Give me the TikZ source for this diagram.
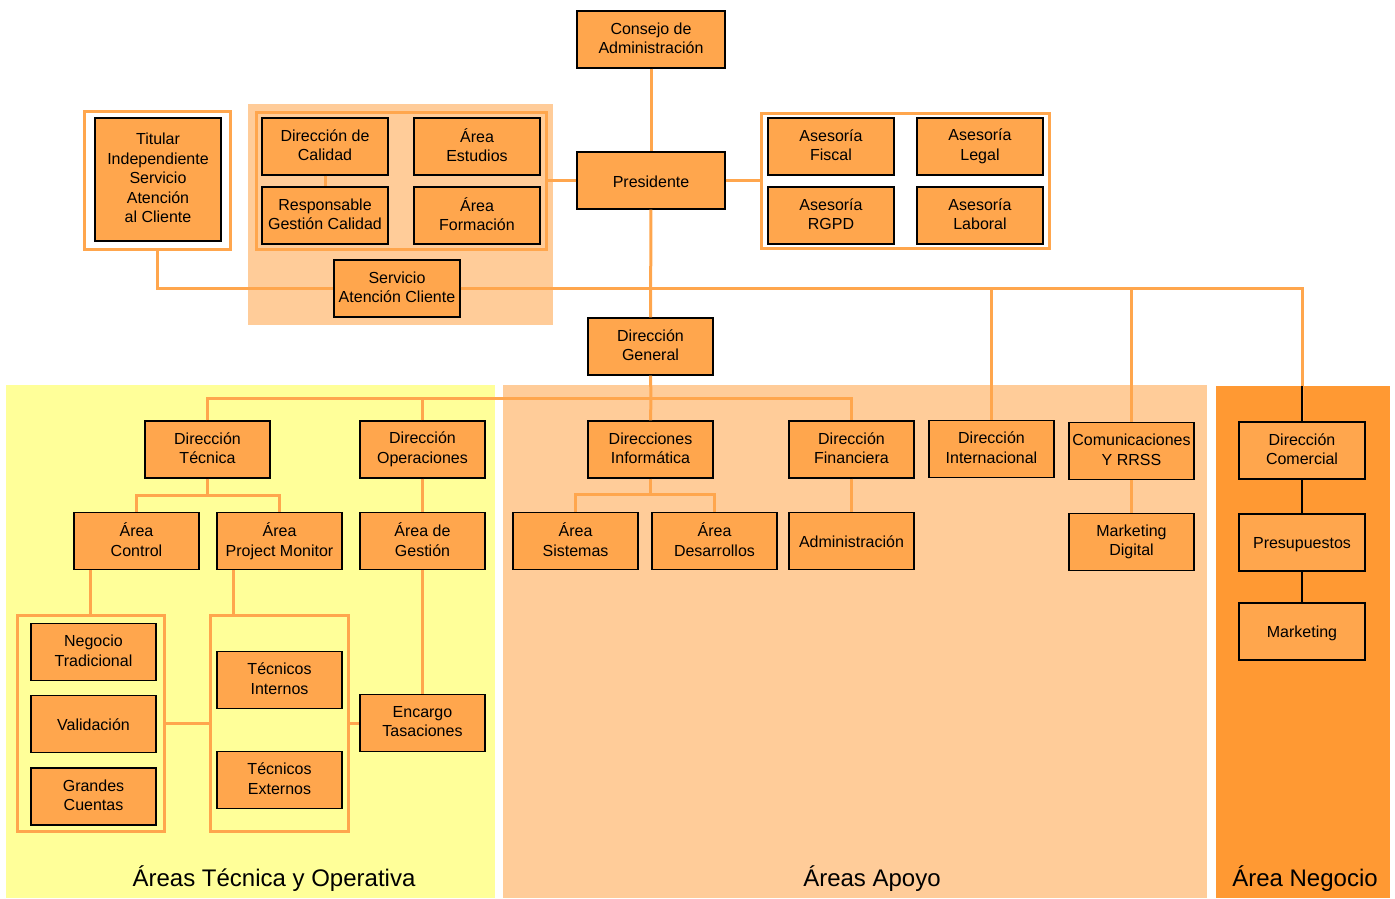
\documentclass[tikz,border=0pt]{standalone}
\usepackage{fontspec}
\setmainfont{Liberation Sans}
\definecolor{boxorange}{HTML}{FFA64D}
\definecolor{lineorange}{HTML}{FFA64D}
\definecolor{apoyobg}{HTML}{FFCC99}
\definecolor{tecnicabg}{HTML}{FFFF99}
\definecolor{negociobg}{HTML}{FF9933}

\begin{document}
\begin{tikzpicture}[
    x=1pt, y=-1pt,
    box/.style={rectangle, draw=black, line width=1.3pt, fill=boxorange, minimum width=125pt, minimum height=57pt, inner sep=0pt, align=center, font=\fontsize{16}{19.5}\selectfont, execute at begin node={\rule{0pt}{16pt}}, execute at end node={\rule[-3pt]{0pt}{3pt}}},
    frame/.style={rectangle, draw=lineorange, line width=3pt, inner sep=0pt},
    link/.style={draw=lineorange, line width=3pt},
    blink/.style={draw=black, line width=2pt},
    zone/.style={font=\fontsize{24}{28}\selectfont}
]
\useasboundingbox (0,0) rectangle (1395,898);

% Backgrounds
\fill[tecnicabg] (6,385) rectangle (495,898);
\fill[apoyobg] (503,385) rectangle (1207,898);
\fill[negociobg] (1216,386) rectangle (1390,898);
\fill[apoyobg] (248,104) rectangle (553,325);

% Frames
\node[frame, fill=white, minimum width=146pt, minimum height=138pt] (ftitular) at (157, 180) {};
\node[frame, minimum width=290pt, minimum height=137pt] (fcal) at (401, 180.5) {};
\node[frame, fill=white, minimum width=288pt, minimum height=135pt] (fases) at (905, 180.5) {};
\node[frame, minimum width=147pt, minimum height=216pt] (fcontrol) at (90.5, 723) {};
\node[frame, minimum width=138pt, minimum height=216pt] (ftec) at (279, 723) {};

% Top
\node[box, minimum width=148pt] (consejo) at (651, 39.5) {Consejo de\\Administración};
\node[box, minimum width=148pt] (presidente) at (651, 180.5) {Presidente};
\node[box, minimum width=126pt, minimum height=123pt] (titular) at (158, 179.5) {Titular\\Independiente\\Servicio\\Atención\\al Cliente};
\node[box, minimum width=126pt] (dcalidad) at (325, 146.5) {Dirección de\\Calidad};
\node[box, minimum width=126pt] (respcal) at (325, 215.5) {Responsable\\Gestión Calidad};
\node[box, minimum width=126pt] (estudios) at (477, 146.5) {Área\\Estudios};
\node[box, minimum width=126pt] (formacion) at (477, 215.5) {Área\\Formación};
\node[box, minimum width=126pt] (sac) at (397, 288.5) {Servicio\\Atención Cliente};
\node[box, minimum width=126pt] (fiscal) at (831, 146.5) {Asesoría\\Fiscal};
\node[box, minimum width=126pt] (legal) at (980, 146.5) {Asesoría\\Legal};
\node[box, minimum width=126pt] (rgpd) at (831, 215.5) {Asesoría\\RGPD};
\node[box, minimum width=126pt] (laboral) at (980, 215.5) {Asesoría\\Laboral};
\node[box] (dgeneral) at (650.5, 346.5) {Dirección\\General};

% Direcciones
\node[box] (dtecnica) at (207.5, 449.5) {Dirección\\Técnica};
\node[box] (doper) at (422.5, 449.5) {Dirección\\Operaciones};
\node[box] (dinform) at (650.5, 449.5) {Direcciones\\Informática};
\node[box] (dfin) at (851.5, 449.5) {Dirección\\Financiera};
\node[box] (dint) at (991.5, 449) {Dirección\\Internacional};
\node[box] (comunic) at (1131.5, 451) {Comunicaciones\\Y RRSS};
\node[box, minimum width=126pt] (dcom) at (1302, 450.5) {Dirección\\Comercial};

% Areas
\node[box] (control) at (136.5, 541) {Área\\Control};
\node[box] (pmonitor) at (279.5, 541) {Área\\Project Monitor};
\node[box] (gestion) at (422.5, 541) {Área de\\Gestión};
\node[box] (sistemas) at (575.5, 541) {Área\\Sistemas};
\node[box] (desarrollos) at (714.5, 541) {Área\\Desarrollos};
\node[box] (admin) at (851.5, 541) {Administración};
\node[box] (mkdigital) at (1131.5, 542) {Marketing\\Digital};
\node[box, minimum width=126pt] (presup) at (1302, 542.5) {Presupuestos};
\node[box, minimum width=126pt] (marketing) at (1302, 631.5) {Marketing};

% Equipos
\node[box] (negocio) at (93.5, 652) {Negocio\\Tradicional};
\node[box] (validacion) at (93.5, 724) {Validación};
\node[box] (grandes) at (93.5, 796.5) {Grandes\\Cuentas};
\node[box] (tecint) at (279.5, 680) {Técnicos\\Internos};
\node[box] (tecext) at (279.5, 780) {Técnicos\\Externos};
\node[box] (encargo) at (422.5, 723) {Encargo\\Tasaciones};

% Buses
\coordinate (dgbus) at (651, 398);
\coordinate (dtbus) at (207.5, 495);
\coordinate (dibus) at (650.5, 494);
\coordinate (negtop) at (1302, 386);

% Lines - top
\draw[link] (consejo) -- (presidente);
\draw[link] (presidente.west) -- (fcal.east);
\draw[link] (presidente.east) -- (fases.west);
\draw[link] (presidente) -- (dgeneral);
\draw[link] (dcalidad) -- (respcal);
\draw[link] (ftitular.south) |- (sac.west);
\draw[link] (sac.east) -| (dcom.north);
\draw[link] (dint.north) -- (dint.north |- sac.east);
\draw[link] (comunic.north) -- (comunic.north |- sac.east);
\draw[blink] (negtop) -- (dcom.north);

% Lines - Direccion General
\draw[link] (dgeneral.south) -- (dgbus);
\draw[link] (dtecnica.north) |- (dgbus) -| (dfin.north);
\draw[link] (doper.north) -- (doper.north |- dgbus);
\draw[link] (dgbus) -- (dinform.north);

% Lines - Tecnica y Operativa
\draw[link] (dtecnica.south) -- (dtbus);
\draw[link] (control.north) |- (dtbus) -| (pmonitor.north);
\draw[link] (doper) -- (gestion);
\draw[link] (gestion) -- (encargo);
\draw[link] (fcontrol.north) -- (fcontrol.north |- control.south);
\draw[link] ([xshift=-46.5pt]pmonitor.south) -- ([xshift=-46.5pt]pmonitor.south |- ftec.north);
\draw[link] (fcontrol.east) -- (ftec.west);
\draw[link] (ftec.east) -- (encargo.west);

% Lines - Apoyo
\draw[link] (dinform.south) -- (dibus);
\draw[link] (sistemas.north) |- (dibus) -| (desarrollos.north);
\draw[link] (dfin) -- (admin);
\draw[link] (comunic) -- (mkdigital);

% Lines - Negocio
\draw[blink] (dcom) -- (presup);
\draw[blink] (presup) -- (marketing);

% Labels
\node[zone] (ztecnica) at (274, 879) {Áreas Técnica y Operativa};
\node[zone] (zapoyo) at (872, 879) {Áreas Apoyo};
\node[zone] (znegocio) at (1305, 879) {Área Negocio};

\end{tikzpicture}
\end{document}
